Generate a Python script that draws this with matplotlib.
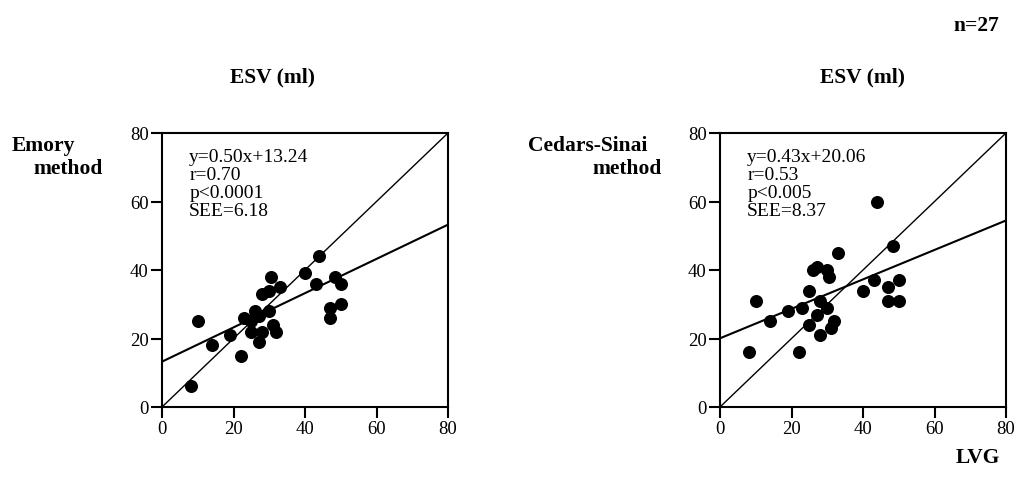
import matplotlib
matplotlib.use("Agg")
import matplotlib.pyplot as plt
import numpy as np

plt.rcParams["font.family"] = ["Liberation Serif", "DejaVu Serif"]

# LVG ESV (x) vs gated SPECT ESV (y)
emory_x = [8, 10, 14, 19, 22, 23, 25, 25, 26, 27, 27, 28, 28, 30, 30, 30.5, 31, 32, 33,
           40, 43, 44, 47, 47, 48.5, 50, 50]
emory_y = [6, 25, 18, 21, 15, 26, 22, 25, 28, 26.5, 19, 22, 33, 28, 34, 38, 24, 22, 35,
           39, 36, 44, 29, 26, 38, 36, 30]
cedars_x = [8, 10, 14, 19, 22, 23, 25, 25, 26, 27, 27, 28, 28, 30, 30, 30.5, 31, 32, 33,
            40, 43, 44, 48.5, 47, 47, 50, 50]
cedars_y = [16, 31, 25, 28, 16, 29, 34, 24, 40, 41, 27, 31, 21, 29, 40, 38, 23, 25, 45,
            34, 37, 60, 47, 35, 31, 37, 31]

emory_fit = (0.50, 13.24)
cedars_fit = (0.43, 20.06)
emory_stats = ["y=0.50x+13.24", "r=0.70", "p<0.0001", "SEE=6.18"]
cedars_stats = ["y=0.43x+20.06", "r=0.53", "p<0.005", "SEE=8.37"]
ticks = [0, 20, 40, 60, 80]

W, H = 1015, 489
fig = plt.figure(figsize=(W / 100, H / 100), dpi=100)


def px_axes(x0, x1, y0, y1):
    return fig.add_axes([x0 / W, 1 - y1 / H, (x1 - x0) / W, (y1 - y0) / H])


def draw_panel(ax, xs, ys, fit, stats):
    grid = np.array([0, 80])
    ax.plot(grid, grid, color="black", lw=1.0)
    ax.plot(grid, fit[0] * grid + fit[1], color="black", lw=1.5)
    ax.scatter(xs, ys, s=70, color="black", zorder=3)
    ax.set_xlim(0, 80)
    ax.set_ylim(0, 80)
    ax.set_xticks(ticks)
    ax.set_yticks(ticks)
    ax.tick_params(direction="out", length=8, width=1.5, labelsize=13.5, pad=1.5)
    for sp in ax.spines.values():
        sp.set_linewidth(1.5)
    ax.text(0.095, 0.945, "\n".join(stats), transform=ax.transAxes, fontsize=14,
            va="top", ha="left", linespacing=1.08)


ax1 = px_axes(162, 448, 134, 408)
draw_panel(ax1, emory_x, emory_y, emory_fit, emory_stats)
ax2 = px_axes(720, 1006, 134, 408)
draw_panel(ax2, cedars_x, cedars_y, cedars_fit, cedars_stats)

bold = dict(fontsize=15.5, fontweight="bold")
fig.text(272 / W, 1 - 77 / H, "ESV (ml)", ha="center", va="center", **bold)
fig.text(862 / W, 1 - 77 / H, "ESV (ml)", ha="center", va="center", **bold)
fig.text(999 / W, 1 - 26 / H, "n=27", ha="right", va="center", **bold)
fig.text(1000 / W, 1 - 458 / H, "LVG", ha="right", va="center", **bold)
fig.text(12 / W, 1 - 146 / H, "Emory", ha="left", va="center", **bold)
fig.text(33 / W, 1 - 169 / H, "method", ha="left", va="center", **bold)
fig.text(528 / W, 1 - 146 / H, "Cedars-Sinai", ha="left", va="center", **bold)
fig.text(592 / W, 1 - 169 / H, "method", ha="left", va="center", **bold)

fig.savefig("out.png", dpi=100)
